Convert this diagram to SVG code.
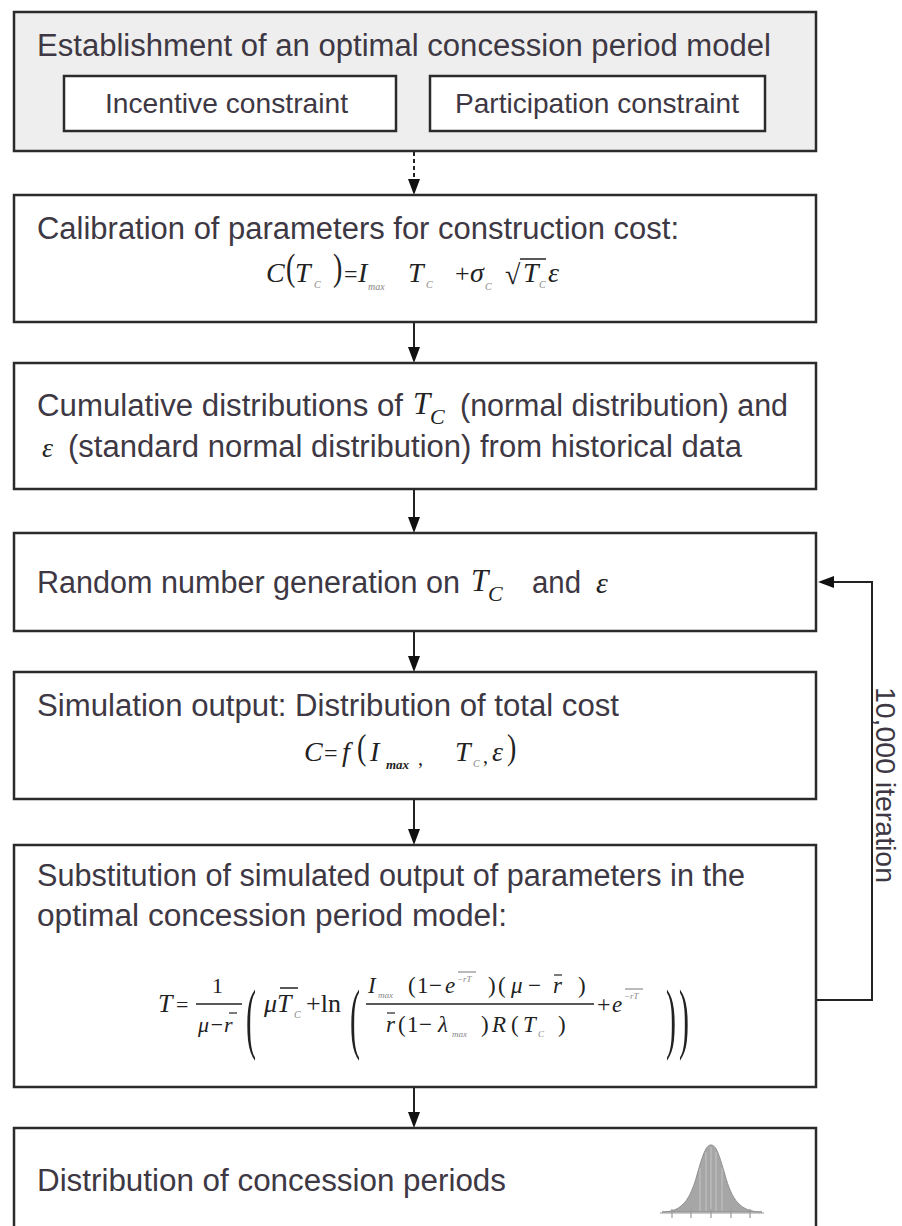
<svg xmlns="http://www.w3.org/2000/svg" width="902" height="1226" viewBox="0 0 902 1226">
<defs>
<style>
.box{fill:#fff;stroke:#2b2b2b;stroke-width:2.5}
.t{font-family:"Liberation Sans",Arial,sans-serif;font-size:31px;fill:#3d3843}
.ti{font-family:"Liberation Sans",Arial,sans-serif;font-size:28px;fill:#3d3843}
.m{font-family:"Liberation Serif","Times New Roman",serif;font-style:italic;fill:#222}
.mu{font-family:"Liberation Serif","Times New Roman",serif;font-style:normal;fill:#222}
.s{font-family:"Liberation Serif","Times New Roman",serif;font-style:italic;fill:#888}
.conn{stroke:#222;stroke-width:2;fill:none}
.ah{fill:#111}
.bar{stroke:#222;stroke-width:1.5}
.ob{stroke:#222;stroke-width:1.2}
</style>
</defs>
<rect width="902" height="1226" fill="#fff"/>

<g id="connectors">
<line class="conn" x1="414" y1="152" x2="414" y2="181" stroke-dasharray="4,3"/>
<path class="ah" d="M408,179 L420,179 L414,195 z"/>
<line class="conn" x1="414" y1="322" x2="414" y2="349"/>
<path class="ah" d="M408,347 L420,347 L414,363 z"/>
<line class="conn" x1="414" y1="489" x2="414" y2="519"/>
<path class="ah" d="M408,517 L420,517 L414,533 z"/>
<line class="conn" x1="414" y1="631" x2="414" y2="658"/>
<path class="ah" d="M408,656 L420,656 L414,672 z"/>
<line class="conn" x1="414" y1="799" x2="414" y2="831"/>
<path class="ah" d="M408,829 L420,829 L414,845 z"/>
<line class="conn" x1="414" y1="1087" x2="414" y2="1114"/>
<path class="ah" d="M408,1112 L420,1112 L414,1128 z"/>
<polyline class="conn" points="816,1000 872,1000 872,582 832,582"/>
<path class="ah" d="M834,576 L834,588 L818,582 z"/>
<text class="ti" transform="translate(876,785) rotate(90)" text-anchor="middle" textLength="196" lengthAdjust="spacingAndGlyphs">10,000 iteration</text>
</g>

<g id="node1">
<rect x="14" y="12" width="802" height="139" fill="#eeeeee" stroke="#2b2b2b" stroke-width="2.5"/>
<text class="t" x="37" y="56" textLength="734" lengthAdjust="spacingAndGlyphs">Establishment of an optimal concession period model</text>
</g>
<g id="node1a">
<rect class="box" x="64" y="76" width="332" height="55"/>
<text class="ti" x="105" y="113" textLength="243" lengthAdjust="spacingAndGlyphs">Incentive constraint</text>
</g>
<g id="node1b">
<rect class="box" x="430" y="76" width="335" height="55"/>
<text class="ti" x="455" y="113" textLength="284" lengthAdjust="spacingAndGlyphs">Participation constraint</text>
</g>

<g id="node2">
<rect class="box" x="14" y="195" width="802" height="127"/>
<text class="t" x="37" y="239" textLength="642" lengthAdjust="spacingAndGlyphs">Calibration of parameters  for construction cost:</text>
<text class="m" x="266" y="282" font-size="28">C</text>
<text class="mu" transform="translate(286,280) scale(1,1.35)" font-size="28">(</text>
<text class="m" x="295" y="282" font-size="28">T</text>
<text class="s" x="314" y="288" font-size="10">C</text>
<text class="mu" transform="translate(333,280) scale(1,1.35)" font-size="28">)</text>
<text class="mu" x="344" y="282" font-size="24">=</text>
<text class="m" x="358" y="282" font-size="28">I</text>
<text class="s" x="368" y="290" font-size="10">max</text>
<text class="m" x="408" y="282" font-size="28">T</text>
<text class="s" x="426" y="288" font-size="10">C</text>
<text class="mu" x="455" y="282" font-size="26">+</text>
<text class="m" x="470" y="282" font-size="28">σ</text>
<text class="s" x="485" y="290" font-size="10">C</text>
<text class="mu" x="505" y="284" font-size="28">√</text>
<line class="bar" x1="520" y1="259" x2="546" y2="259"/>
<text class="m" x="523" y="282" font-size="28">T</text>
<text class="s" x="539" y="288" font-size="10">C</text>
<text class="m" x="548" y="282" font-size="28">ε</text>
</g>

<g id="node3">
<rect class="box" x="14" y="363" width="802" height="126"/>
<text class="t" x="37" y="416" textLength="366" lengthAdjust="spacingAndGlyphs">Cumulative distributions of</text>
<text class="m" x="413" y="414" font-size="31">T</text>
<text class="m" x="430" y="424" font-size="22">C</text>
<text class="t" x="460" y="416" textLength="328" lengthAdjust="spacingAndGlyphs">(normal distribution) and</text>
<text class="m" x="42" y="457" font-size="28">ε</text>
<text class="t" x="68" y="457" textLength="674" lengthAdjust="spacingAndGlyphs">(standard normal  distribution) from historical data</text>
</g>

<g id="node4">
<rect class="box" x="14" y="533" width="802" height="98"/>
<text class="t" x="37" y="593" textLength="423" lengthAdjust="spacingAndGlyphs">Random number generation  on</text>
<text class="m" x="471" y="591" font-size="31">T</text>
<text class="m" x="488" y="601" font-size="22">C</text>
<text class="t" x="532" y="593" textLength="49" lengthAdjust="spacingAndGlyphs">and</text>
<text class="m" x="596" y="593" font-size="30">ε</text>
</g>

<g id="node5">
<rect class="box" x="14" y="672" width="802" height="127"/>
<text class="t" x="37" y="716" textLength="582" lengthAdjust="spacingAndGlyphs">Simulation output: Distribution of total cost</text>
<text class="m" x="304" y="761" font-size="28">C</text>
<text class="mu" x="324" y="761" font-size="24">=</text>
<text class="m" x="342" y="761" font-size="28">f</text>
<text class="mu" transform="translate(357,759) scale(1,1.3)" font-size="28">(</text>
<text class="m" x="370" y="761" font-size="28">I</text>
<text class="m" x="386" y="769" font-size="13" fill="#555" font-weight="bold">max</text>
<text class="mu" x="418" y="765" font-size="20">,</text>
<text class="m" x="455" y="761" font-size="28">T</text>
<text class="s" x="473" y="767" font-size="10">C</text>
<text class="mu" x="483" y="763" font-size="20">,</text>
<text class="m" x="492" y="761" font-size="28">ε</text>
<text class="mu" transform="translate(507,759) scale(1,1.3)" font-size="28">)</text>
</g>

<g id="node6">
<rect class="box" x="14" y="845" width="802" height="242"/>
<text class="t" x="37" y="886" textLength="708" lengthAdjust="spacingAndGlyphs">Substitution of simulated output of parameters in the</text>
<text class="t" x="37" y="926" textLength="470" lengthAdjust="spacingAndGlyphs">optimal concession period model:</text>
<text class="m" x="158" y="1012" font-size="26">T</text>
<text class="mu" x="176" y="1012" font-size="22">=</text>
<text class="mu" x="212" y="993" font-size="22">1</text>
<line class="bar" x1="196" y1="1004" x2="242" y2="1004"/>
<text class="m" x="198" y="1032" font-size="22">μ−r</text>
<line class="ob" x1="229" y1="1013" x2="237" y2="1013"/>
<text class="mu" transform="translate(246,1044) scale(1,2.6)" font-size="30">(</text>
<text class="m" x="264" y="1012" font-size="26">μT</text>
<line class="bar" x1="280" y1="988" x2="298" y2="988"/>
<text class="s" x="294" y="1018" font-size="10">C</text>
<text class="mu" x="306" y="1012" font-size="26">+ln</text>
<text class="mu" transform="translate(350,1044) scale(1,2.6)" font-size="30">(</text>
<text class="m" x="368" y="993" font-size="23">I</text>
<text class="s" x="378" y="998" font-size="9">max</text>
<text class="mu" x="408" y="993" font-size="23">(</text>
<text class="mu" x="417" y="993" font-size="23">1</text>
<text class="mu" x="429" y="993" font-size="23">−</text>
<text class="m" x="445" y="993" font-size="23">e</text>
<text class="s" x="457" y="982" font-size="9">−rT</text>
<line x1="458" y1="972" x2="476" y2="972" stroke="#777" stroke-width="1"/>
<text class="mu" x="488" y="993" font-size="23">)</text>
<text class="mu" x="498" y="993" font-size="23">(</text>
<text class="m" x="511" y="993" font-size="23">μ</text>
<text class="mu" x="528" y="993" font-size="23">−</text>
<text class="m" x="553" y="993" font-size="23">r</text>
<line class="ob" x1="554" y1="975" x2="562" y2="975"/>
<text class="mu" x="578" y="993" font-size="23">)</text>
<line class="bar" x1="366" y1="1004" x2="594" y2="1004"/>
<text class="m" x="386" y="1032" font-size="23">r</text>
<line class="ob" x1="387" y1="1013" x2="395" y2="1013"/>
<text class="mu" x="398" y="1032" font-size="23">(</text>
<text class="mu" x="407" y="1032" font-size="23">1</text>
<text class="mu" x="419" y="1032" font-size="23">−</text>
<text class="m" x="438" y="1032" font-size="23">λ</text>
<text class="s" x="452" y="1037" font-size="9">max</text>
<text class="mu" x="481" y="1032" font-size="23">)</text>
<text class="m" x="492" y="1032" font-size="23">R</text>
<text class="mu" x="511" y="1032" font-size="23">(</text>
<text class="m" x="523" y="1032" font-size="23">T</text>
<text class="s" x="538" y="1037" font-size="9">C</text>
<text class="mu" x="558" y="1032" font-size="23">)</text>
<text class="mu" x="597" y="1012" font-size="24">+</text>
<text class="m" x="612" y="1012" font-size="23">e</text>
<text class="s" x="624" y="999" font-size="9">−rT</text>
<line x1="625" y1="989" x2="643" y2="989" stroke="#777" stroke-width="1"/>
<text class="mu" transform="translate(666,1044) scale(1,2.6)" font-size="30">)</text>
<text class="mu" transform="translate(679,1044) scale(1,2.6)" font-size="30">)</text>
</g>

<g id="node7">
<rect class="box" x="14" y="1128" width="802" height="120"/>
<text class="t" x="37" y="1191" textLength="469" lengthAdjust="spacingAndGlyphs">Distribution of concession periods</text>
<path d="M662,1212 C682,1212 690,1200 697,1175 C703,1154 706,1145 711,1145 C716,1145 719,1154 725,1175 C732,1200 740,1212 762,1212 Z" fill="#a6a6a6" stroke="#8f8f8f" stroke-width="1"/>
<g stroke="#c4c4c4" stroke-width="1">
<line x1="700" y1="1168" x2="700" y2="1211"/>
<line x1="706" y1="1152" x2="706" y2="1211"/>
<line x1="711" y1="1147" x2="711" y2="1211"/>
<line x1="716" y1="1152" x2="716" y2="1211"/>
<line x1="722" y1="1168" x2="722" y2="1211"/>
</g>
<g stroke="#9a9a9a" stroke-width="1.2">
<line x1="660" y1="1213" x2="764" y2="1213"/>
<line x1="672" y1="1209" x2="672" y2="1218"/>
<line x1="691" y1="1209" x2="691" y2="1218"/>
<line x1="711" y1="1209" x2="711" y2="1218"/>
<line x1="731" y1="1209" x2="731" y2="1218"/>
<line x1="750" y1="1209" x2="750" y2="1218"/>
</g>
</g>
</svg>
